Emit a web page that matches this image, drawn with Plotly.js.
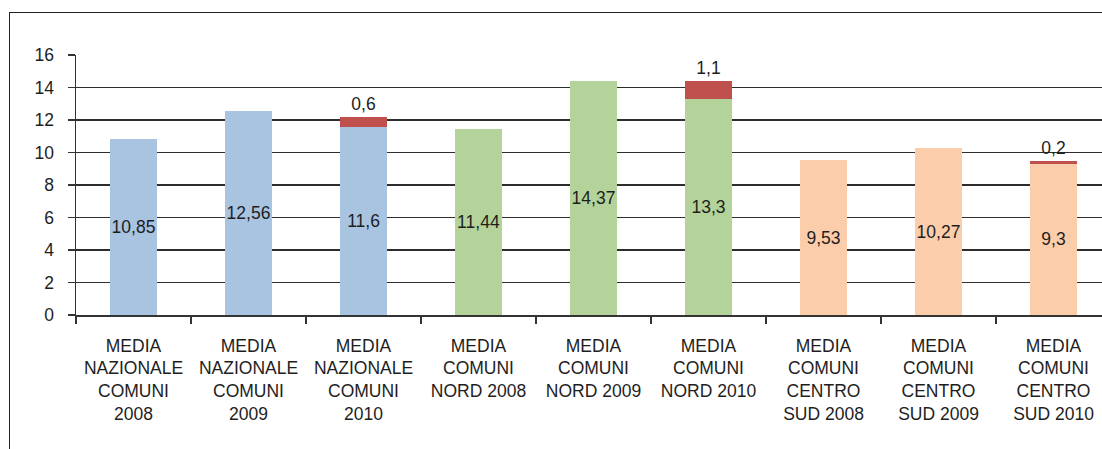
<!DOCTYPE html>
<html>
<head>
<meta charset="utf-8">
<script src="https://cdn.plot.ly/plotly-3.0.1.min.js"></script>
<style>
html,body{margin:0;padding:0;background:#fff;overflow:hidden;width:1102px;height:449px;}
#wrap{position:relative;width:1102px;height:449px;overflow:hidden;}
#chart{position:absolute;left:0;top:0;width:1120px;height:449px;}
#frame{position:absolute;left:9px;top:12px;width:1200px;height:600px;border-left:1.5px solid #222;border-top:1.5px solid #222;pointer-events:none;}
</style>
</head>
<body>
<div id="wrap"><div id="chart"></div><div id="frame"></div></div>
<script>
const categories = [
  "MEDIA<br>NAZIONALE<br>COMUNI<br>2008",
  "MEDIA<br>NAZIONALE<br>COMUNI<br>2009",
  "MEDIA<br>NAZIONALE<br>COMUNI<br>2010",
  "MEDIA<br>COMUNI<br>NORD 2008",
  "MEDIA<br>COMUNI<br>NORD 2009",
  "MEDIA<br>COMUNI<br>NORD 2010",
  "MEDIA<br>COMUNI<br>CENTRO<br>SUD 2008",
  "MEDIA<br>COMUNI<br>CENTRO<br>SUD 2009",
  "MEDIA<br>COMUNI<br>CENTRO<br>SUD 2010"
];
const baseValues = [10.85, 12.56, 11.6, 11.44, 14.37, 13.3, 9.53, 10.27, 9.3];
const extraValues = [null, null, 0.6, null, null, 1.1, null, null, 0.2];
const baseColors = ["#A9C4E1","#A9C4E1","#A9C4E1","#B4D39B","#B4D39B","#B4D39B","#FCCDAA","#FCCDAA","#FCCDAA"];
const extraColor = "#C0504D";

const fmt = v => (v === null ? "" : String(v).replace(".", ","));
const FONT = {family: "Liberation Sans, Arial, sans-serif", size: 17.5, color: "#1e1e1e"};

const traces = [
  {
    type: "bar", x: categories, y: baseValues,
    marker: {color: baseColors},
    text: baseValues.map(fmt), textposition: "inside", insidetextanchor: "middle",
    textangle: 0,
    textfont: FONT, insidetextfont: FONT, constraintext: "none",
    hoverinfo: "none"
  },
  {
    type: "bar", x: categories, y: extraValues,
    marker: {color: extraColor},
    text: extraValues.map(fmt), textposition: "outside", textangle: 0,
    textfont: FONT, outsidetextfont: FONT, constraintext: "none", cliponaxis: false,
    hoverinfo: "none"
  }
];

const layout = {
  width: 1120, height: 449,
  margin: {l: 76, r: 9, t: 55, b: 134},
  paper_bgcolor: "rgba(0,0,0,0)", plot_bgcolor: "rgba(0,0,0,0)",
  barmode: "stack", bargap: 0.59,
  showlegend: false,
  font: FONT,
  separators: ",.",
  uniformtext: {mode: false},
  xaxis: {
    type: "category", tickson: "boundaries",
    ticks: "outside", ticklen: 7, tickwidth: 1.3, tickcolor: "#333",
    showline: true, linecolor: "#333", linewidth: 1.5,
    showgrid: false, tickangle: 0, tickfont: FONT, automargin: false,
    ticklabelstandoff: 14
  },
  yaxis: {
    range: [0, 16], dtick: 2, tick0: 0,
    ticks: "outside", ticklen: 7, tickwidth: 1.3, tickcolor: "#333",
    showline: true, linecolor: "#333", linewidth: 1.5,
    showgrid: true, gridcolor: "#2d2d2d", gridwidth: 1.5,
    zeroline: false, tickfont: FONT, automargin: false,
    ticklabelstandoff: 10
  }
};

Plotly.newPlot("chart", traces, layout, {displayModeBar: false, staticPlot: true});
</script>
</body>
</html>
